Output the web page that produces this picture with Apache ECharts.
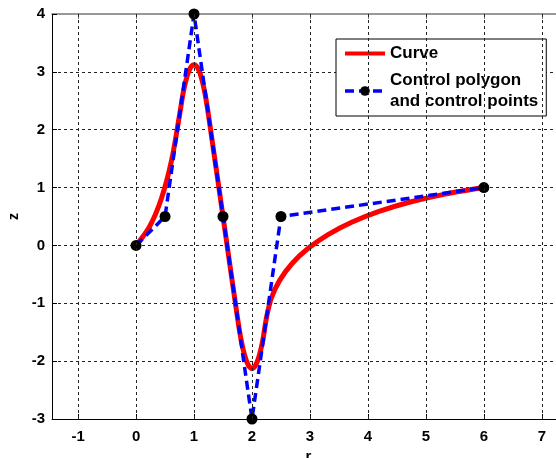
<!DOCTYPE html>
<html>
<head>
<meta charset="utf-8">
<script src="https://cdn.jsdelivr.net/npm/echarts@6/dist/echarts.min.js"></script>
<style>
  html, body { margin: 0; padding: 0; background: #fff; overflow: hidden; }
  #chart { width: 556px; height: 458px; }
</style>
</head>
<body>
<div id="chart"></div>
<script>
// Control points of the curve (r, z)
var ctrlR = [0, 0.5, 1, 1.5, 2, 2.5, 6];
var ctrlZ = [0, 0.5, 4, 0.5, -3, 0.5, 1];

// Sampled points along the curve (r, z)
var curveR = [0, 0.234, 0.4375, 0.609, 0.75, 0.8125, 0.875, 0.9375, 1, 1.0625, 1.125, 1.1875, 1.25,
              1.5, 1.75, 1.8125, 1.875, 1.9375, 2, 2.0625, 2.125, 2.1875, 2.25,
              2.3325, 2.48, 2.6925, 2.97, 3.3125, 3.72, 4.1925, 4.73, 5.3325, 6];
var curveZ = [0, 0.328, 0.8125, 1.453, 2.25, 2.633, 2.906, 3.07, 3.125, 3.07, 2.906, 2.633, 2.25,
              0.5, -1.25, -1.633, -1.906, -2.07, -2.125, -2.07, -1.906, -1.633, -1.25,
              -0.9125, -0.6, -0.3125, -0.05, 0.1875, 0.4, 0.5875, 0.75, 0.8875, 1];

// Tick positions along r
var rTicks = [-1, 0, 1, 2, 3, 4, 5, 6, 7];

var seriesNames = ['Curve', 'Control polygon\nand control points'];
var axisNames = { r: 'r', z: 'z' };

function pairs(xs, ys) {
  return xs.map(function (x, i) { return [x, ys[i]]; });
}

var font = 'Liberation Sans, Arial, sans-serif';
var gridLineStyle = { color: '#222', width: 1, type: [3, 3] };

var chart = echarts.init(document.getElementById('chart'), null, { renderer: 'canvas' });
chart.setOption({
  animation: false,
  backgroundColor: '#fff',
  grid: {
    left: 52, top: 14, right: -9, bottom: 39,
    containLabel: false, outerBoundsMode: 'none', show: false
  },
  xAxis: [{
    type: 'value', min: -1.45, max: 7.4,
    name: axisNames.r, nameLocation: 'middle', nameGap: 27,
    nameTextStyle: { fontFamily: font, fontWeight: 'bold', fontSize: 15, color: '#000' },
    axisLine: { show: true, onZero: false, lineStyle: { color: '#000', width: 1 } },
    axisTick: { show: true, inside: true, length: 5, customValues: rTicks, lineStyle: { color: '#000' } },
    axisLabel: { customValues: rTicks, margin: 10,
      fontFamily: font, fontWeight: 'bold', fontSize: 15, color: '#000' },
    splitLine: { show: false }
  }, {
    type: 'value', position: 'top', min: -1.45, max: 7.4,
    axisLine: { show: true, onZero: false, lineStyle: { color: '#777', width: 1.5 } },
    axisTick: { show: true, inside: true, length: 5, customValues: rTicks, lineStyle: { color: '#777' } },
    axisLabel: { show: false },
    splitLine: { show: false }
  }],
  yAxis: {
    type: 'value', min: -3, max: 4, interval: 1,
    name: axisNames.z, nameLocation: 'middle', nameGap: 31,
    nameTextStyle: { fontFamily: font, fontWeight: 'bold', fontSize: 14, color: '#000' },
    axisLine: { show: true, onZero: false, lineStyle: { color: '#000', width: 1 } },
    axisTick: { show: true, inside: true, length: 5, lineStyle: { color: '#000' } },
    axisLabel: { margin: 7, fontFamily: font, fontWeight: 'bold', fontSize: 15, color: '#000' },
    splitLine: { show: true, showMinLine: false, showMaxLine: false, lineStyle: gridLineStyle }
  },
  legend: {
    left: 336, top: 39, width: 210,
    orient: 'vertical', align: 'left',
    backgroundColor: '#fff', borderColor: '#000', borderWidth: 1,
    padding: [4, 8, 4, 7], itemGap: 6,
    itemWidth: 40, itemHeight: 12,
    textStyle: { fontFamily: font, fontWeight: 'bold', fontSize: 17, color: '#000', lineHeight: 21 },
    data: [
      { name: seriesNames[0], itemStyle: { opacity: 0 }, lineStyle: { width: 4 } },
      { name: seriesNames[1], lineStyle: { width: 3.5 } }
    ]
  },
  series: [{
    // vertical grid lines at each r tick
    type: 'line', silent: true, symbol: 'none', data: [],
    markLine: {
      silent: true, symbol: 'none', label: { show: false },
      lineStyle: gridLineStyle,
      data: rTicks.map(function (v) { return { xAxis: v }; })
    },
    z: 1
  }, {
    name: seriesNames[0], type: 'line',
    data: pairs(curveR, curveZ),
    smooth: 0.3, showSymbol: false, symbol: 'none',
    lineStyle: { color: '#ff0000', width: 5 },
    itemStyle: { color: '#ff0000' },
    z: 2
  }, {
    name: seriesNames[1], type: 'line',
    data: pairs(ctrlR, ctrlZ),
    symbol: 'circle', symbolSize: 11, showSymbol: true,
    lineStyle: { color: '#0000ff', width: 3.5, type: [9, 5] },
    itemStyle: { color: '#000', borderWidth: 0 },
    z: 3
  }]
});
</script>
</body>
</html>
